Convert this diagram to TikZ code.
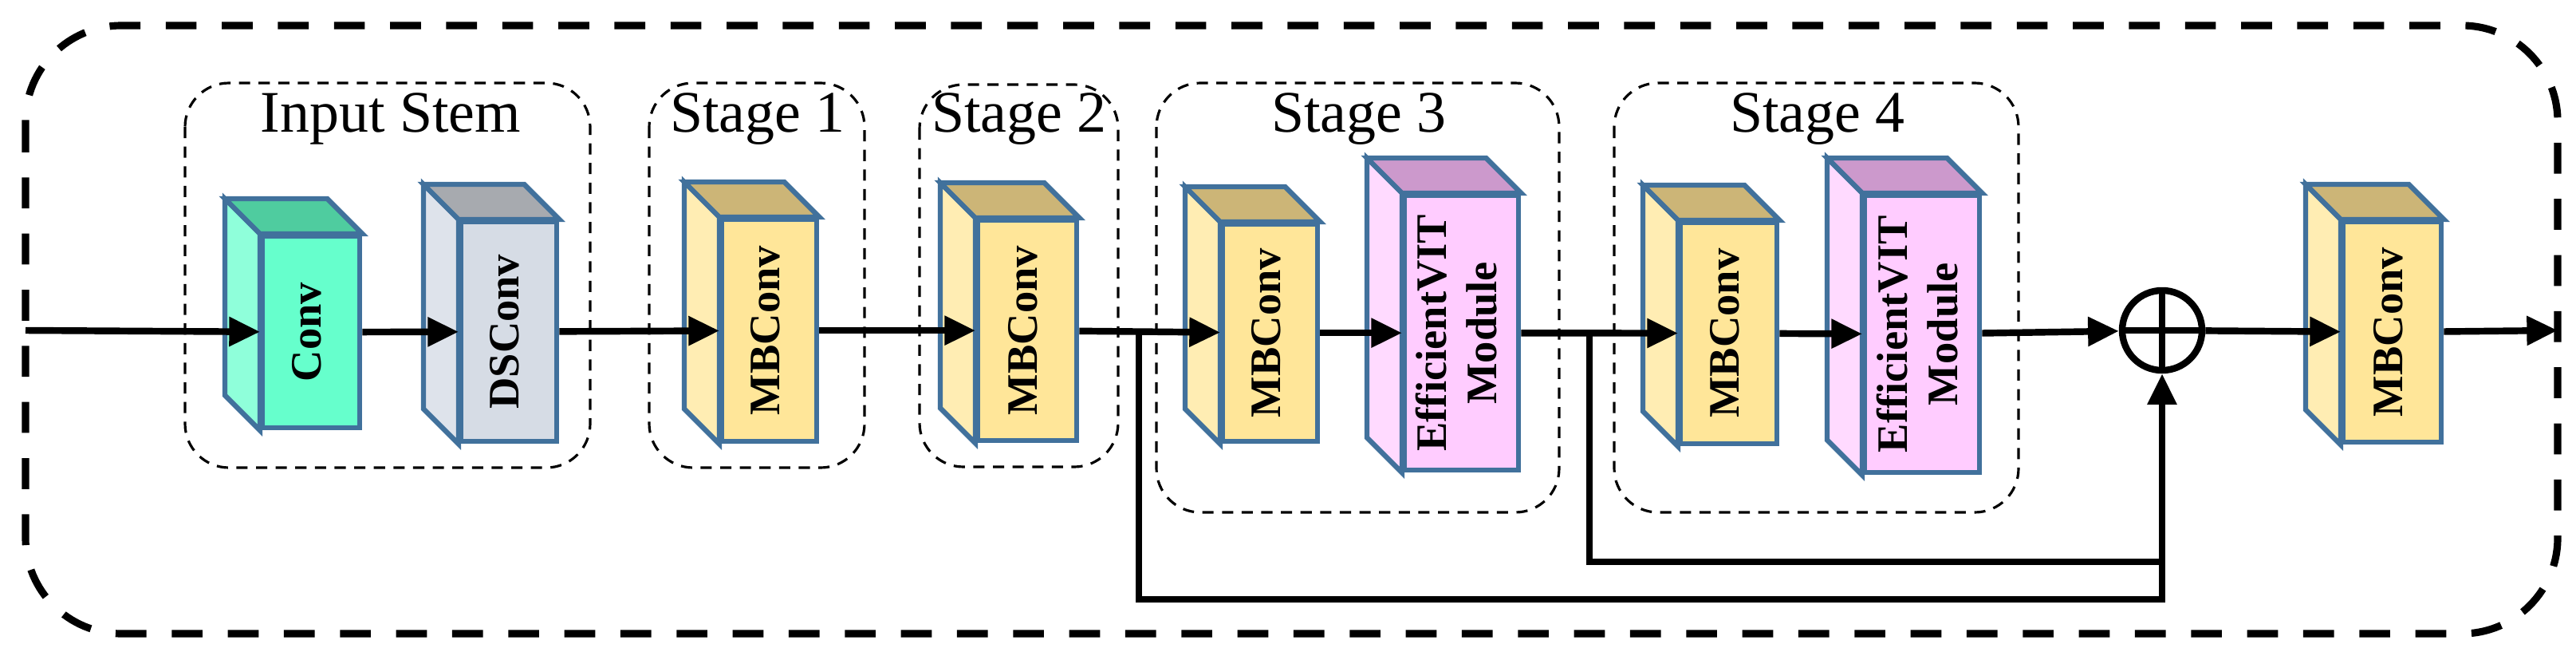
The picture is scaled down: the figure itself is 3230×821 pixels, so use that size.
\documentclass[tikz,border=0pt]{standalone}
\usepackage{fontspec}
\setmainfont{Liberation Serif}
\usetikzlibrary{positioning,calc,arrows.meta}
\definecolor{edgeblue}{HTML}{41719C}
\definecolor{convfront}{HTML}{66FFCC}
\definecolor{convside}{HTML}{8FFFDA}
\definecolor{convtop}{HTML}{4FCC9F}
\definecolor{dsfront}{HTML}{D6DCE5}
\definecolor{dsside}{HTML}{DEE3EB}
\definecolor{dstop}{HTML}{A7AAAF}
\definecolor{mbfront}{HTML}{FFE699}
\definecolor{mbside}{HTML}{FFEDB3}
\definecolor{mbtop}{HTML}{CCB577}
\definecolor{vitfront}{HTML}{FFCCFF}
\definecolor{vitside}{HTML}{FFDAFF}
\definecolor{vittop}{HTML}{CC99CC}

\tikzset{
  blkface/.style={rectangle, draw=edgeblue, line width=1.8pt, inner sep=0pt, align=center,
    font=\fontsize{15.5}{18}\selectfont\bfseries},
  blkedge/.style={draw=edgeblue, line width=1.8pt, line join=miter},
  group/.style={draw, line width=0.9pt, dash pattern=on 4pt off 3pt, rounded corners=0.55cm},
  outer/.style={draw, line width=2.6pt, dash pattern=on 11pt off 9pt, rounded corners=1.2cm},
  title/.style={font=\fontsize{21}{25}\selectfont},
  flow/.style={line width=2.4pt, -{Triangle[length=11pt,width=10pt]}},
  skip/.style={line width=2.4pt}
}

% block: name, x, y (front top), width, height, front, side, top, label
\newcommand{\blk}[9]{%
  \node[blkface, fill=#6, minimum width=#4*0.01cm, minimum height=#5*0.01cm, anchor=north west] (#1) at (#2,#3) {#9};
  \filldraw[blkedge, fill=#7] (#1.north west) -- ++(-44,-44) -- ($(#1.south west)+(-44,-44)$) -- (#1.south west) -- cycle;
  \filldraw[blkedge, fill=#8] (#1.north west) -- ++(-44,-44) -- ($(#1.north east)+(-44,-44)$) -- (#1.north east) -- cycle;
}
\newcommand{\vlab}[1]{\rotatebox{90}{\begin{tabular}{@{}c@{}}#1\end{tabular}}}

\begin{document}
\begin{tikzpicture}[x=0.01cm, y=-0.01cm]
    \useasboundingbox (0,0) rectangle (3230,821);
    % Rahmen
    \draw[outer] (32,32) rectangle (3207,794);
    \draw[group] (232,104) rectangle (740,586);
    \draw[group] (814,104) rectangle (1084,586);
    \draw[group] (1153,106) rectangle (1402,585);
    \draw[group] (1450,104) rectangle (1955,642);
    \draw[group] (2024,104) rectangle (2531,642);
    \node[title] (tstem) at (490,149) {Input Stem};
    \node[title] (ts1) at (950,149) {Stage 1};
    \node[title] (ts2) at (1278,149) {Stage 2};
    \node[title] (ts3) at (1704,149) {Stage 3};
    \node[title] (ts4) at (2279,149) {Stage 4};

    % Bloecke
    \blk{conv}{326}{293}{122}{240}{convfront}{convside}{convtop}{\vlab{Conv}}
    \blk{dsconv}{575}{275}{120}{275}{dsfront}{dsside}{dstop}{\vlab{DSConv}}
    \blk{mba}{902}{272}{119}{278}{mbfront}{mbside}{mbtop}{\vlab{MBConv}}
    \blk{mbb}{1223}{273}{124}{276}{mbfront}{mbside}{mbtop}{\vlab{MBConv}}
    \blk{mbc}{1530}{278}{119}{272}{mbfront}{mbside}{mbtop}{\vlab{MBConv}}
    \blk{vitc}{1758}{242}{143}{344}{vitfront}{vitside}{vittop}{\vlab{EfficientVIT\\Module}}
    \blk{mbd}{2104}{276}{121}{277}{mbfront}{mbside}{mbtop}{\vlab{MBConv}}
    \blk{vitd}{2335}{242}{144}{347}{vitfront}{vitside}{vittop}{\vlab{EfficientVIT\\Module}}
    \blk{mbe}{2935}{275}{123}{276}{mbfront}{mbside}{mbtop}{\vlab{MBConv}}
    \node[circle, draw, line width=2.4pt, minimum size=1cm, inner sep=0pt] (sum) at (2711,414) {};
    \draw[line width=2.4pt] (sum.north) -- (sum.south) (sum.west) -- (sum.east);

    \coordinate (in) at (32,414);
    \coordinate (out) at (3207,414);
    \coordinate (sa) at (1428,414);
    \coordinate (sb) at (1993,414);

    % Pfeile
    \draw[flow] (in) -- (conv);
    \draw[flow] (conv) -- (dsconv);
    \draw[flow] (dsconv) -- (mba);
    \draw[flow] (mba) -- (mbb);
    \draw[flow] (mbb) -- (mbc);
    \draw[flow] (mbc) -- (vitc);
    \draw[flow] (vitc) -- (mbd);
    \draw[flow] (mbd) -- (vitd);
    \draw[flow] (vitd) -- (sum);
    \draw[flow] (sum) -- (mbe);
    \draw[flow] (mbe) -- (out);
    \draw[skip] (sb) |- (2711,704);
    \draw[flow] (sa) |- (2711,751) -- (sum.south);
\end{tikzpicture}
\end{document}
